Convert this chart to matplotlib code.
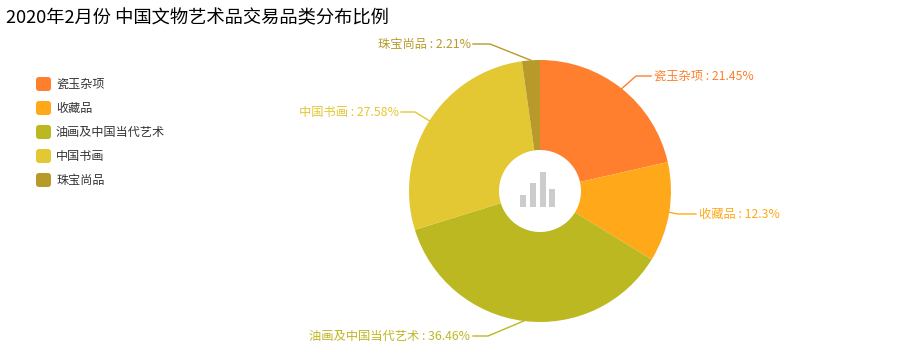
import numpy as np
import matplotlib
matplotlib.use("Agg")
import matplotlib.pyplot as plt
from matplotlib.patches import FancyBboxPatch, Rectangle, Circle

plt.rcParams['font.family'] = ['Noto Sans CJK SC', 'DejaVu Sans']

categories = ['瓷玉杂项', '收藏品', '油画及中国当代艺术', '中国书画', '珠宝尚品']
shares = [21.45, 12.3, 36.46, 27.58, 2.21]
colors = ['#ff7f2e', '#ffa91a', '#bcb822', '#e3c733', '#b89a2b']
title = '2020年2月份 中国文物艺术品交易品类分布比例'

W, H = 907, 359
cx, cy, r, hole_r = 540, 191, 131, 41

fig = plt.figure(figsize=(W / 100, H / 100), dpi=100)

# pie sits in its own square axes, placed in pixels
ax = fig.add_axes([(cx - r) / W, 1 - (cy + r) / H, 2 * r / W, 2 * r / H])
ax.pie(shares, colors=colors, startangle=90, counterclock=False, radius=1,
       wedgeprops={'linewidth': 0})
ax.set_xlim(-1, 1)
ax.set_ylim(-1, 1)
ax.set_aspect('equal')
ax.axis('off')

# overlay in pixel coordinates for title, legend, labels
ov = fig.add_axes([0, 0, 1, 1])
ov.set_xlim(0, W)
ov.set_ylim(H, 0)
ov.axis('off')
ov.patch.set_alpha(0)

ov.text(6, 18, title, fontsize=13.15, color='black', va='center', ha='left')

# legend
for i, (name, c) in enumerate(zip(categories, colors)):
    y = 84 + i * 24
    ov.add_patch(FancyBboxPatch((38, y - 5), 11, 10, boxstyle='round,pad=2,rounding_size=3',
                                fc=c, ec='none'))
    ov.text(56, y + 0.5, name, fontsize=8.7, color='#333333', va='center', ha='left')

# center hole and small bar icon
ov.add_patch(Circle((cx, cy), hole_r, fc='white', ec='none'))
icon_x = [520, 530, 540, 549]
icon_top = [195, 183, 172, 189]
for x, top in zip(icon_x, icon_top):
    ov.add_patch(Rectangle((x, top), 6, 207 - top, fc='#cccccc', ec='none'))

# leader lines start on the pie edge at the middle of each slice
elbows = [(636, 76), (678, 214), (488, 336), (415, 112), (490, 44)]
ends = [651, 696, 473, 401, 473]
label_x = [654, 699, 470, 399, 471]
aligns = ['left', 'left', 'right', 'right', 'right']

mids = (np.cumsum(shares) - np.array(shares) / 2) / 100 * 2 * np.pi
for i, name in enumerate(categories):
    sx = cx + r * np.sin(mids[i])
    sy = cy - r * np.cos(mids[i])
    ex, ey = elbows[i]
    ov.plot([sx, ex, ends[i]], [sy, ey, ey], color=colors[i], lw=1, solid_joinstyle='round')
    ov.text(label_x[i], ey + 0.5, f'{name} : {shares[i]:g}%', fontsize=8.85, color=colors[i],
            va='center', ha=aligns[i])

fig.savefig('out.png', dpi=100)
